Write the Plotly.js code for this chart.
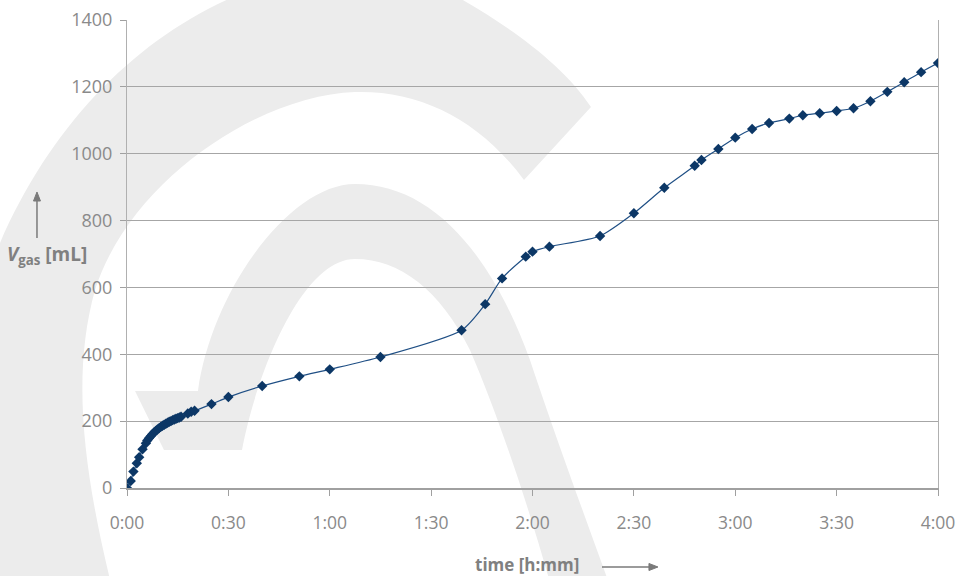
<!DOCTYPE html>
<html>
<head>
<meta charset="utf-8">
<script src="https://cdn.plot.ly/plotly-3.0.1.min.js"></script>
<style>html,body{margin:0;padding:0;background:#fff;}#chart{width:960px;height:576px;}</style>
</head>
<body>
<div id="chart"></div>
<script>
// time in minutes
const timeMin = [0, 1.1, 1.9, 2.9, 3.6, 4.6, 5.6, 6, 6.5, 7, 7.5, 8, 8.5, 9, 9.5, 10, 10.5, 11, 11.5, 12, 12.5, 13, 13.5, 14, 14.5, 15, 15.5, 16, 18, 19, 20,
  25, 30, 40, 51, 60, 75, 99, 106, 111, 118, 120, 125, 140, 150, 159, 168, 170, 175, 180, 185, 190, 196, 200, 205, 210, 215, 220, 225, 230, 235, 240];
// gas volume in mL
const volumeML = [0, 21, 49, 74, 92, 116, 134, 142, 149, 155, 161, 166, 171, 175, 179, 183, 186, 189, 192, 195, 198, 200, 203, 205, 207, 209, 211, 213, 223, 228, 231,
  251, 272, 305, 334, 355, 392, 472, 550, 627, 692, 707, 722, 754, 822, 898, 964, 981, 1014, 1048, 1074, 1092, 1105, 1115, 1121, 1128, 1136, 1157, 1185, 1214, 1244, 1271];
const xTickVals = [0, 30, 60, 90, 120, 150, 180, 210, 240];
const xTickText = ["0:00", "0:30", "1:00", "1:30", "2:00", "2:30", "3:00", "3:30", "4:00"];
const yTickVals = [0, 200, 400, 600, 800, 1000, 1200, 1400];
const yTitle = '<i>V</i><sub>gas</sub> [mL]';
const xTitle = 'time [h:mm]';

// plot area in pixels
const L = 127, R = 938, T = 20, B = 488;
function PX(px) { return (px - L) / (R - L); }
function PY(py) { return (B - py) / (B - T); }
function P(px, py) { return PX(px).toFixed(4) + ',' + PY(py).toFixed(4); }
function path(cmds, close) {
  return cmds.map(c => c[0] + ' ' + c.slice(1).map(p => P(p[0], p[1])).join(' ')).join(' ') + (close === false ? '' : ' Z');
}
const wm = '#ececec';
const outerBand = path([
  ['M', [-30, 600]],
  ['L', [-30, 330]],
  ['C', [15, 160], [120, 40], [250, -10]],
  ['L', [445, -10]],
  ['C', [500, 20], [560, 60], [591, 107]],
  ['L', [524, 180]],
  ['C', [480, 120], [420, 90], [355, 92]],
  ['C', [260, 95], [130, 180], [95, 290]],
  ['C', [70, 380], [85, 480], [115, 600]]
]);
const innerArch = path([
  ['M', [135, 391]],
  ['L', [198, 391]],
  ['C', [212, 290], [290, 184], [355, 184]],
  ['C', [430, 184], [490, 250], [530, 360]],
  ['C', [560, 450], [590, 530], [615, 600]],
  ['L', [555, 600]],
  ['C', [530, 510], [500, 420], [470, 350]],
  ['C', [440, 290], [400, 259], [355, 259]],
  ['C', [300, 259], [255, 380], [242, 450]],
  ['L', [164, 450]]
]);
const arrowGray = '#7a7a7a';
const yArrowLine = path([['M', [37, 238]], ['L', [37, 200]]], false);
const yArrowHead = path([['M', [33.5, 201]], ['L', [37, 192]], ['L', [40.5, 201]]]);
const xArrowLine = path([['M', [602, 567]], ['L', [650, 567]]], false);
const xArrowHead = path([['M', [649, 563.5]], ['L', [658, 567]], ['L', [649, 570.5]]]);

const trace = {
  x: timeMin, y: volumeML, type: 'scatter', mode: 'lines+markers',
  line: {color: '#1f4f85', width: 1.2, shape: 'spline', smoothing: 0.7},
  marker: {symbol: 'diamond', size: 8, color: '#0c3766'},
  hoverinfo: 'x+y'
};
const gray = '#8a8a8a';
const fontFam = 'Open Sans, sans-serif';
const layout = {
  width: 960, height: 576,
  margin: {l: L, r: 960 - R, t: T, b: 576 - B},
  paper_bgcolor: '#ffffff', plot_bgcolor: 'rgba(0,0,0,0)',
  showlegend: false,
  font: {family: fontFam, color: gray, size: 18},
  xaxis: {
    range: [0, 240], tickvals: xTickVals, ticktext: xTickText,
    showgrid: false, zeroline: false, showline: true, linecolor: '#a0a0a0', linewidth: 2,
    ticks: 'outside', ticklen: 6, tickcolor: '#a0a0a0', tickwidth: 1,
    ticklabelstandoff: 12, tickfont: {size: 17.5, color: gray, family: fontFam}
  },
  yaxis: {
    range: [0, 1400], tickvals: yTickVals,
    showgrid: true, gridcolor: '#a6a6a6', gridwidth: 1, zeroline: false,
    showline: true, mirror: true, linecolor: '#b0b0b0', linewidth: 1,
    ticks: 'outside', ticklen: 6, tickcolor: '#a0a0a0',
    ticklabelstandoff: 4, tickfont: {size: 18, color: gray, family: fontFam}
  },
  shapes: [
    {type: 'path', xref: 'paper', yref: 'paper', path: outerBand, fillcolor: wm, line: {width: 0}, layer: 'below'},
    {type: 'path', xref: 'paper', yref: 'paper', path: innerArch, fillcolor: wm, line: {width: 0}, layer: 'below'},
    {type: 'path', xref: 'paper', yref: 'paper', path: yArrowLine, line: {color: arrowGray, width: 1.5}},
    {type: 'path', xref: 'paper', yref: 'paper', path: yArrowHead, fillcolor: arrowGray, line: {color: arrowGray, width: 1}},
    {type: 'path', xref: 'paper', yref: 'paper', path: xArrowLine, line: {color: arrowGray, width: 1.5}},
    {type: 'path', xref: 'paper', yref: 'paper', path: xArrowHead, fillcolor: arrowGray, line: {color: arrowGray, width: 1}}
  ],
  annotations: [
    {xref: 'paper', yref: 'paper', x: PX(47), y: PY(255), text: yTitle,
     showarrow: false, font: {size: 19, color: '#808080', family: fontFam, weight: 'bold'}, xanchor: 'center', yanchor: 'middle'},
    {xref: 'paper', yref: 'paper', x: PX(527), y: PY(564), text: xTitle,
     showarrow: false, font: {size: 17, color: '#808080', family: fontFam, weight: 'bold'}, xanchor: 'center', yanchor: 'middle', borderpad: 0}
  ]
};
Plotly.newPlot('chart', [trace], layout, {staticPlot: true, displayModeBar: false});
</script>
</body>
</html>
